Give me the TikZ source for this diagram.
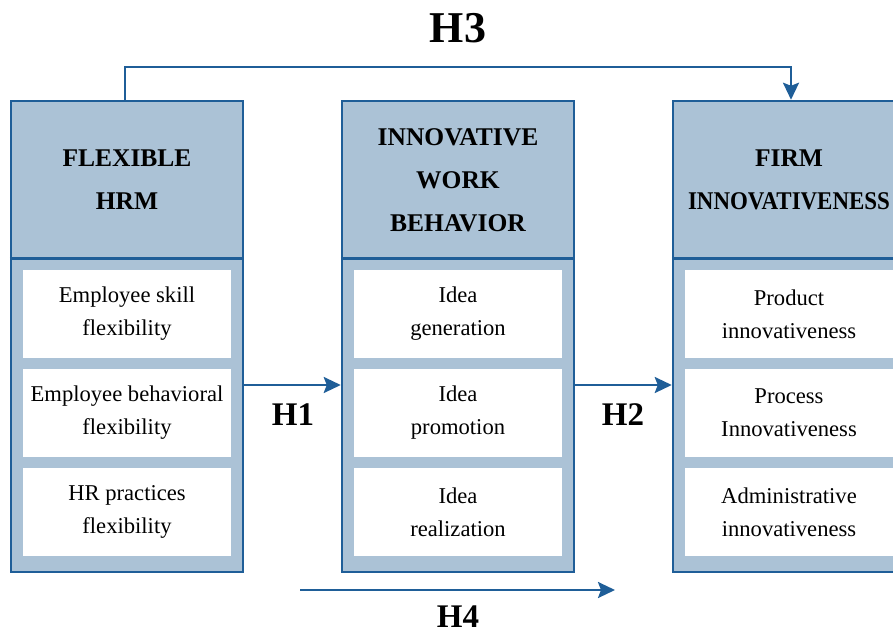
\documentclass[tikz,border=0pt]{standalone}
\usepackage{fontspec}
\setmainfont{Liberation Serif}
\usetikzlibrary{arrows.meta,calc}
\definecolor{dblue}{HTML}{1F5E98}
\definecolor{lblue}{HTML}{ABC2D6}
\begin{document}
\begin{tikzpicture}[x=1pt,y=-1pt,
  outer/.style={draw=dblue,line width=2.5pt,fill=lblue,minimum width=232pt,minimum height=471pt,inner sep=0pt},
  cell/.style={fill=white,minimum width=208pt,minimum height=88pt,inner sep=0pt,align=center,font=\fontsize{22.6}{33}\selectfont},
  head/.style={align=center,inner sep=0pt,font=\fontsize{25.5}{43}\selectfont\bfseries},
  sep/.style={draw=dblue,line width=2.5pt},
  arr/.style={draw=dblue,line width=2.5pt,line join=miter,-{Stealth[length=17pt,width=16pt,inset=3pt]}},
  hl/.style={anchor=base,inner sep=0pt,font=\fontsize{33}{33}\selectfont\bfseries}]
\useasboundingbox (0,0) rectangle (893,634);
\clip (0,0) rectangle (893,634);
% outer boxes
\node[outer] (box1) at (127,336.5) {};
\node[outer] (box2) at (458,336.5) {};
\node[outer] (box3) at (789,336.5) {};
% header separators
\draw[sep] (box1.west |- 0,258.5) -- (box1.east |- 0,258.5);
\draw[sep] (box2.west |- 0,258.5) -- (box2.east |- 0,258.5);
\draw[sep] (box3.west |- 0,258.5) -- (box3.east |- 0,258.5);
% headers
\node[head] (h1) at (127,180) {FLEXIBLE\\HRM};
\node[head] (h2) at (458,180) {INNOVATIVE\\WORK\\BEHAVIOR};
\node[head] (h3) at (789,180) {FIRM\\\scalebox{0.9}[1]{INNOVATIVENESS}};
% cells
\node[cell] (a1) at (127,314) {Employee skill\\flexibility};
\node[cell] (a2) at (127,413) {Employee behavioral\\flexibility};
\node[cell] (a3) at (127,512) {HR practices\\flexibility};
\node[cell] (b1) at (458,314) {Idea\\generation};
\node[cell] (b2) at (458,413) {Idea\\promotion};
\node[cell] (b3) at (458,512) {Idea\\realization};
\node[cell] (c1) at (789,314) {Product\\innovativeness};
\node[cell] (c2) at (789,413) {Process\\Innovativeness};
\node[cell] (c3) at (789,512) {Administrative\\innovativeness};
% connectors
\draw[arr] (box1.east |- 0,385) -- (box2.west |- 0,385);
\draw[arr] (box2.east |- 0,385) -- (box3.west |- 0,385);
\draw[arr] (box1.north -| 125,0) |- (791,67) -- (box3.north -| 791,0);
\coordinate (h4s) at (300,590);
\coordinate (h4e) at (615,590);
\draw[arr] (h4s) -- (h4e);
% labels
\node[hl] (l1) at (293,425) {H1};
\node[hl] (l2) at (623,425) {H2};
\node[hl,font=\fontsize{44}{44}\selectfont\bfseries] (l3) at (458,43) {H3};
\node[hl] (l4) at (458,627) {H4};
\end{tikzpicture}
\end{document}
